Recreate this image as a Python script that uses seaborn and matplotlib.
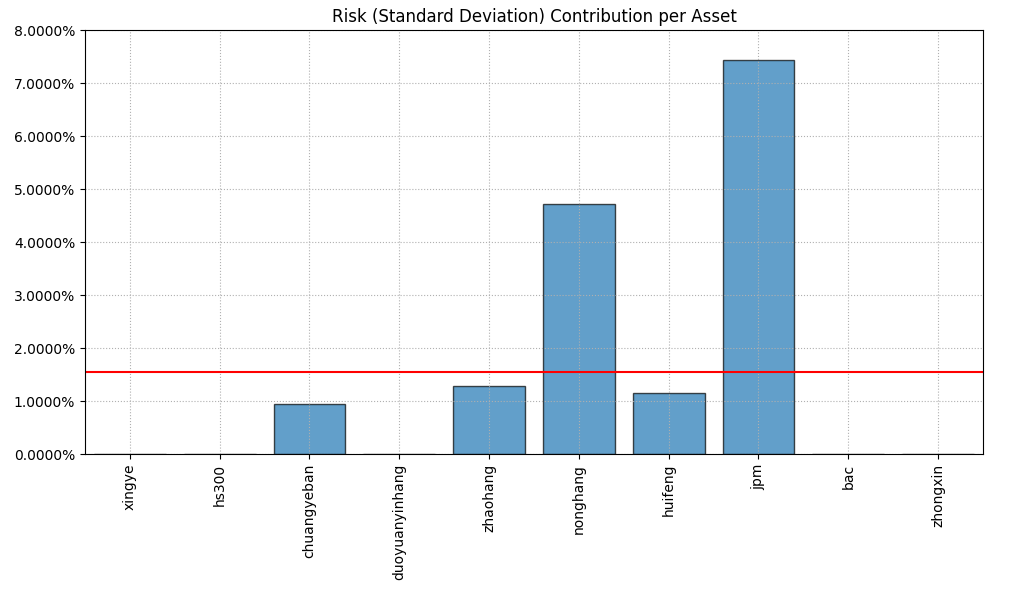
import matplotlib
matplotlib.use('Agg')
import matplotlib.pyplot as plt
import matplotlib.ticker as mtick
import seaborn as sns
import pandas as pd

assets = ['xingye', 'hs300', 'chuangyeban', 'duoyuanyinhang', 'zhaohang',
          'nonghang', 'huifeng', 'jpm', 'bac', 'zhongxin']
risk_contrib = [0.0, 0.0, 0.00943, 0.0, 0.01283, 0.04712, 0.01151, 0.07438, 0.0, 0.0]
target_line = 0.01554

df = pd.DataFrame({'Asset': assets, 'Contribution': risk_contrib})

fig, ax = plt.subplots(figsize=(10.09, 5.9), dpi=100)
sns.barplot(data=df, x='Asset', y='Contribution', color='#1f77b4', saturation=1,
            alpha=0.7, edgecolor='black', linewidth=1, width=0.8, ax=ax)
ax.axhline(target_line, color='red', linewidth=1.5)

ax.set_ylim(0, 0.08)
ax.yaxis.set_major_formatter(mtick.PercentFormatter(xmax=1, decimals=4))
ax.set_xlabel('')
ax.set_ylabel('')
ax.set_title('Risk (Standard Deviation) Contribution per Asset')
plt.xticks(rotation=90)
ax.grid(True, linestyle=':', color='#b0b0b0')
ax.set_axisbelow('line')

plt.subplots_adjust(left=0.0842, right=0.9742, top=0.949, bottom=0.2305)
fig.savefig('out.png', dpi=100)
